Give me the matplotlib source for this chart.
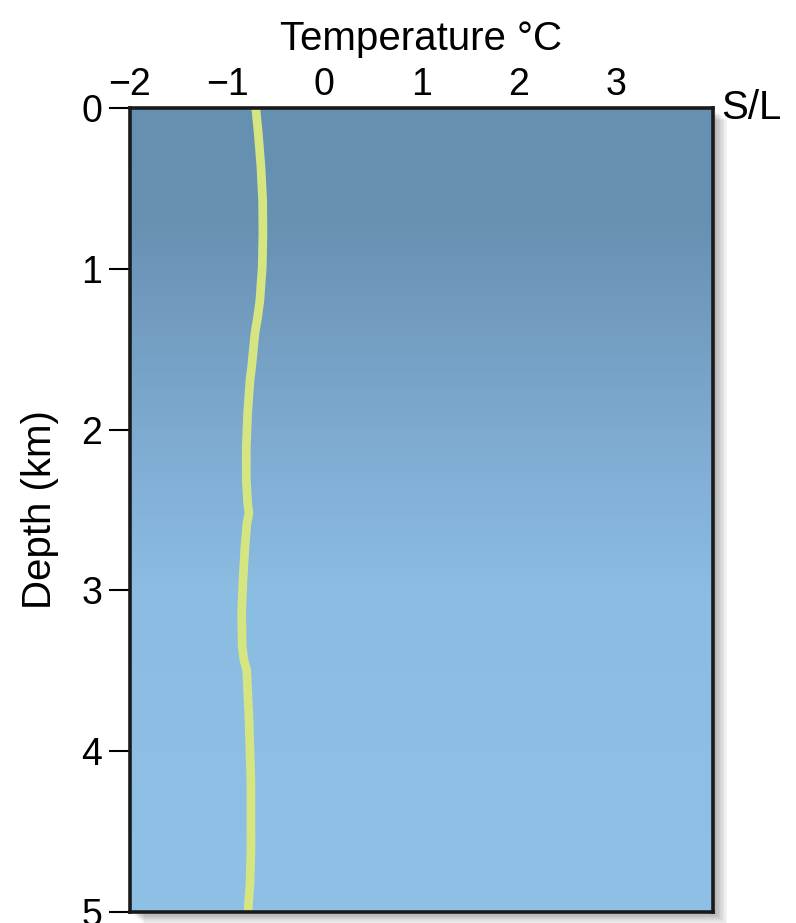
import matplotlib.pyplot as plt
import numpy as np
from matplotlib.colors import LinearSegmentedColormap
from matplotlib.patches import Rectangle

plt.rcParams['font.family'] = ['Liberation Sans', 'DejaVu Sans']

# temperature profile
depth_km = [0.0, 0.155, 0.367, 0.572, 0.777, 0.989, 1.194, 1.300, 1.399, 1.611, 1.692,
            1.897, 2.108, 2.313, 2.456, 2.519, 2.581, 2.730, 2.935, 3.141, 3.352,
            3.433, 3.495, 3.787, 4.197, 4.614, 4.820, 5.0]
temp_c = [-0.705, -0.680, -0.652, -0.635, -0.632, -0.639, -0.663, -0.686, -0.714, -0.748, -0.765,
          -0.789, -0.803, -0.803, -0.789, -0.776, -0.796, -0.817, -0.837, -0.851, -0.845,
          -0.827, -0.799, -0.776, -0.755, -0.755, -0.765, -0.785]

x_ticks = [-2, -1, 0, 1, 2, 3]
x_labels = ['\u22122', '\u22121', '0', '1', '2', '3']
y_ticks = [0, 1, 2, 3, 4, 5]

fig = plt.figure(figsize=(7.96, 9.23), dpi=100)
pos = [0.1633, 0.0119, 0.7324, 0.871]
ax = fig.add_axes(pos)
ax.set_zorder(5)

# soft drop shadow to the right and below the frame
for i in range(10):
    dx = (i + 1) * 1.4 / 796
    dy = (i + 1) * 1.2 / 923
    fig.patches.append(Rectangle((pos[0] + dx, pos[1] - dy), pos[2], pos[3],
                                 transform=fig.transFigure, facecolor='black',
                                 alpha=0.035, edgecolor='none', zorder=0))

# background gradient, darker at the surface
cmap = LinearSegmentedColormap.from_list('sea', [
    (0.0, '#6690b1'), (0.15, '#6892b4'), (0.4, '#7eaad0'),
    (0.6, '#8bbce2'), (1.0, '#8fc1e6')])
grad = np.linspace(0, 1, 256).reshape(-1, 1)
ax.imshow(grad, cmap=cmap, aspect='auto', extent=[-2, 4, 5, 0], zorder=0)

ax.plot(temp_c, depth_km, color='#d4e582', lw=6.3, solid_capstyle='butt', zorder=2)

ax.set_xlim(-2, 4)
ax.set_ylim(5, 0)

ax.xaxis.tick_top()
ax.set_xticks(x_ticks)
ax.set_xticklabels(x_labels)
ax.tick_params(axis='x', length=0, pad=4, labelsize=27)
ax.set_yticks(y_ticks)
ax.tick_params(axis='y', length=15, width=1.5, pad=5, labelsize=27)

ax.xaxis.set_label_position('top')
ax.set_xlabel('Temperature \u00b0C', fontsize=29, labelpad=12)
ax.set_ylabel('Depth (km)', fontsize=29, labelpad=16)

for s in ax.spines.values():
    s.set_linewidth(2.6)
    s.set_color('#1a1a1a')

ax.text(1.014, 1.0, 'S/L', transform=ax.transAxes, fontsize=29,
        ha='left', va='center')

fig.savefig('out.png', dpi=100)
